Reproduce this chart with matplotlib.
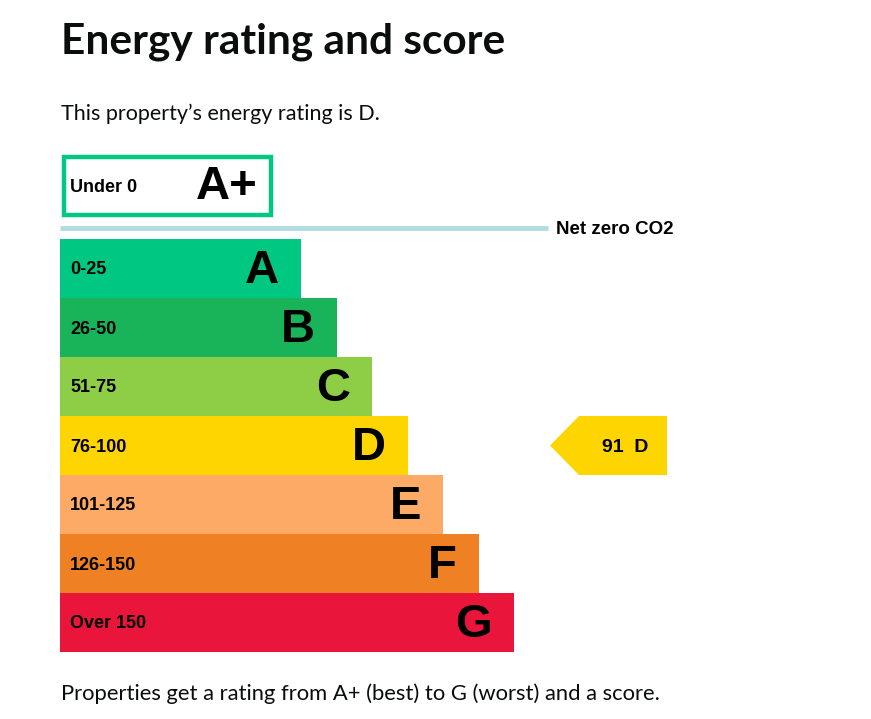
import matplotlib
matplotlib.use('Agg')
import matplotlib.pyplot as plt
from matplotlib.patches import Polygon, Rectangle

# rating bands, best to worst
bands = ['A', 'B', 'C', 'D', 'E', 'F', 'G']
ranges = ['0-25', '26-50', '51-75', '76-100', '101-125', '126-150', 'Over 150']
colours = ['#00c781', '#19b459', '#8dce46', '#ffd500', '#fcaa65', '#ef8023', '#e9153b']
top_band = 'A+'
top_range = 'Under 0'
score = 91
rating = 'D'

fig = plt.figure(figsize=(8.71, 7.19), dpi=100)
ax = fig.add_axes([0, 0, 1, 1])
ax.set_xlim(0, 871)
ax.set_ylim(719, 0)
ax.axis('off')

label_font = 'Liberation Sans'
head_font = 'Lato'

# headings
ax.text(61, 42, 'Energy rating and score', fontsize=30.5, fontweight='bold',
        family=head_font, va='center', color='#0b0c0c')
ax.text(61, 114, 'This property\u2019s energy rating is D.', fontsize=15.5,
        family=head_font, va='center', color='#0b0c0c')
ax.text(61, 694, 'Properties get a rating from A+ (best) to G (worst) and a score.',
        fontsize=15.8, family=head_font, va='center', color='#0b0c0c')

# A+ box
ax.add_patch(Rectangle((64, 157), 207, 58, fill=False, edgecolor='#00c781', linewidth=3.2))
ax.text(70, 187, top_range, fontsize=13, fontweight='bold', family=label_font, va='center')
ax.text(258, 187, top_band, fontsize=34, fontweight='bold', family=label_font,
        va='center', ha='right')

# net zero line
ax.plot([60, 548], [228, 228], color='#b1dde2', linewidth=3.5, solid_capstyle='butt')
ax.text(556, 229, 'Net zero CO2', fontsize=13.5, fontweight='bold', family=label_font, va='center')

# bands
row_h = 59
top = 239
left = 60
centres = [top + row_h * (i + 0.5) for i in range(len(bands))]
lengths = [241 + 35.5 * i for i in range(len(bands))]
ax.barh(centres, lengths, left=left, height=row_h, color=colours, linewidth=0)
for c, ln, b, r in zip(centres, lengths, bands, ranges):
    ax.text(70, c + 1.5, r, fontsize=13, fontweight='bold', family=label_font, va='center')
    ax.text(left + ln - 22, c + 2.5, b, fontsize=34, fontweight='bold', family=label_font,
            va='center', ha='right')

# current rating arrow
i = bands.index(rating)
c = centres[i]
y0, y1 = c - row_h / 2, c + row_h / 2
ax.add_patch(Polygon([(550, c), (579, y0), (667, y0), (667, y1), (579, y1)],
                     closed=True, facecolor=colours[i], edgecolor='none'))
ax.text(625.5, c + 1.5, f'{score}  {rating}', fontsize=14, fontweight='bold', family=label_font,
        va='center', ha='center')

fig.savefig('out.png', dpi=100, facecolor='white')
